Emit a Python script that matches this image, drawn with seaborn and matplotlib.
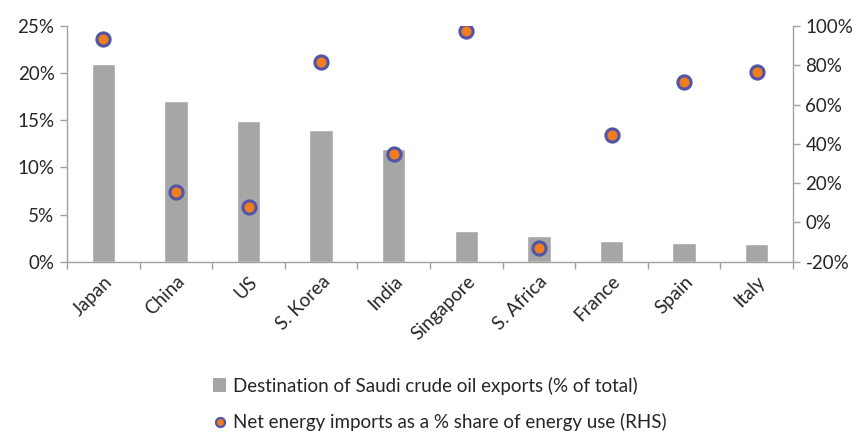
import numpy as np
import pandas as pd
import matplotlib
matplotlib.use("Agg")
import matplotlib.pyplot as plt
import seaborn as sns
from matplotlib.lines import Line2D
from matplotlib.patches import Patch
from matplotlib.ticker import FuncFormatter, FixedLocator

categories = ["Japan", "China", "US", "S. Korea", "India", "Singapore",
              "S. Africa", "France", "Spain", "Italy"]
exports_share = [21.0, 17.0, 14.9, 14.0, 12.0, 3.3, 2.7, 2.2, 1.95, 1.85]
net_imports = [93.2, 15.7, 7.6, 81.5, 35.0, 97.2, -13.2, 44.6, 71.4, 76.5]
left_ticks = [0, 5, 10, 15, 20, 25]
right_ticks = [-20, 0, 20, 40, 60, 80, 100]
bar_label = "Destination of Saudi crude oil exports (% of total)"
dot_label = "Net energy imports as a % share of energy use (RHS)"

sns.set_style("white")
plt.rcParams["font.family"] = ["Lato", "DejaVu Sans"]
text_color = "#262626"
spine_color = "#a0a0a0"
bar_color = "#a6a6a6"
dot_face = "#f07d1e"
dot_edge = "#5254a8"
fs = 13.5

df = pd.DataFrame({"country": categories, "exports": exports_share, "imports": net_imports})

fig = plt.figure(figsize=(8.58, 4.34), dpi=100)
ax = fig.add_axes([67/858, 1 - 261.7/434, (793 - 67)/858, (261.7 - 26)/434])

sns.barplot(data=df, x="country", y="exports", ax=ax, color=bar_color,
            width=0.32, saturation=1, order=categories)
ax.set_ylim(0, 25)
ax.set_yticks(left_ticks)
ax.yaxis.set_major_formatter(FuncFormatter(lambda v, p: f"{v:.0f}%"))
ax.set_xlabel("")
ax.set_ylabel("")

ax2 = ax.twinx()
sns.pointplot(data=df, x="country", y="imports", ax=ax2, order=categories,
              linestyle="none", marker="o", errorbar=None, color=dot_face,
              markersize=9.5, markeredgecolor=dot_edge, markeredgewidth=2.2,
              markerfacecolor=dot_face)
ax2.set_ylim(-20, 100)
ax2.set_yticks(right_ticks)
ax2.yaxis.set_major_formatter(FuncFormatter(lambda v, p: f"{v:.0f}%"))
ax2.set_ylabel("")
ax2.set_xlabel("")
ax.set_xlim(-0.5, len(categories) - 0.5)

for a in (ax, ax2):
    for s in a.spines.values():
        s.set_visible(False)
ax.spines["left"].set_visible(True)
ax.spines["bottom"].set_visible(True)
ax2.spines["right"].set_visible(True)
for s in (ax.spines["left"], ax.spines["bottom"], ax2.spines["right"]):
    s.set_color(spine_color)
    s.set_linewidth(1.0)

ax.set_xticks(range(len(categories)))
ax.set_xticklabels(categories, rotation=45, ha="right", rotation_mode="anchor")
ax.xaxis.set_minor_locator(FixedLocator(np.arange(-0.5, len(categories), 1.0)))
ax.tick_params(axis="x", which="major", length=0, pad=8, labelsize=fs, labelcolor=text_color)
ax.tick_params(axis="x", which="minor", length=5, color=spine_color, width=1, direction="out", bottom=True)
ax.tick_params(axis="y", which="major", length=5, color=spine_color, width=1, direction="out",
               labelsize=fs, labelcolor=text_color, left=True, pad=4)
ax2.tick_params(axis="y", which="major", length=5, color=spine_color, width=1, direction="out",
                labelsize=fs, labelcolor=text_color, right=True, pad=4)
ax2.tick_params(axis="x", which="both", length=0)

handles = [
    Patch(facecolor=bar_color, edgecolor="none", label=bar_label),
    Line2D([0], [0], linestyle="none", marker="o", markersize=6.5,
           markerfacecolor=dot_face, markeredgecolor=dot_edge, markeredgewidth=1.6,
           label=dot_label),
]
fig.legend(handles=handles, loc="upper center", bbox_to_anchor=(440/858, 1 - 369/434),
           frameon=False, fontsize=fs, labelcolor=text_color, handlelength=0.7,
           handletextpad=0.35, labelspacing=1.0, borderaxespad=0)

fig.savefig("out.png", dpi=100)
